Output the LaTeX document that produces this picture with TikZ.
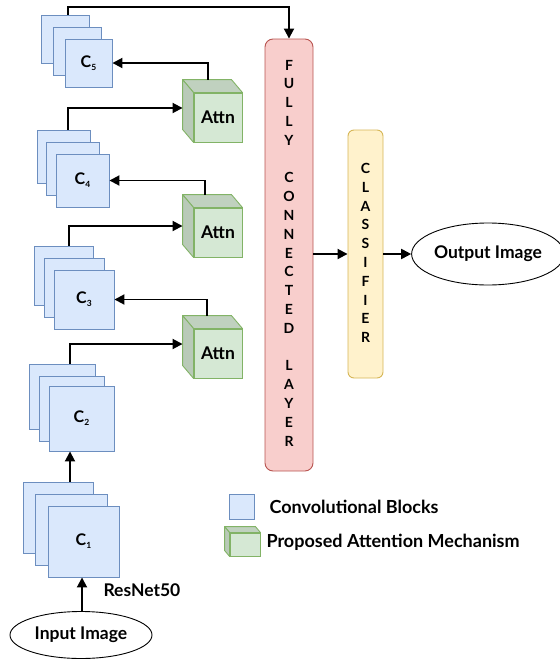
\documentclass[tikz,border=0pt]{standalone}
\usepackage{fontspec}
\setmainfont{Lato}
\usetikzlibrary{arrows.meta,calc,shapes.geometric}
\definecolor{cbfill}{HTML}{DAE8FC}
\definecolor{cbline}{HTML}{6C8EBF}
\definecolor{gnfill}{HTML}{D5E8D4}
\definecolor{gnline}{HTML}{82B366}
\definecolor{rdfill}{HTML}{F8CECC}
\definecolor{rdline}{HTML}{B85450}
\definecolor{ylfill}{HTML}{FFF2CC}
\definecolor{ylline}{HTML}{D6B656}
\begin{document}
\begin{tikzpicture}[x=1pt,y=-1pt,
  blk/.style={draw=cbline,fill=cbfill,line width=0.9pt,inner sep=0pt,font=\bfseries\fontsize{16}{18}\selectfont},
  attnfront/.style={draw=gnline,fill=gnfill,line width=0.9pt,inner sep=0pt,minimum width=48pt,minimum height=49pt,font=\bfseries\fontsize{17.5}{18}\selectfont},
  attntop/.style={draw=gnline,fill=gnfill!90!black,line width=0.9pt,line join=round},
  attnleft/.style={draw=gnline,fill=gnfill!87!black,line width=0.9pt,line join=round},
  arr/.style={line width=1.9pt,-{Triangle[length=10pt,width=10pt]}},
  lbl/.style={font=\bfseries\fontsize{17.5}{20}\selectfont},
  leg/.style={font=\bfseries\fontsize{18}{20}\selectfont},
  vert/.style={align=center,inner sep=0pt,font=\bfseries\fontsize{14}{18.8}\selectfont},
  ell/.style={draw,ellipse,line width=0.9pt,inner sep=0pt,font=\bfseries\fontsize{17.5}{20}\selectfont}
]
\useasboundingbox (0,0) rectangle (560,662);

% ---------- convolution stacks ----------
\newcommand\sub[1]{\raisebox{-3pt}{\fontsize{8.5}{8.5}\selectfont #1}}
% C5
\node[blk,minimum width=48pt,minimum height=48pt] (c5b) at (65,39) {};
\node[blk,minimum width=48pt,minimum height=48pt] (c5m) at (77,51) {};
\node[blk,minimum width=47pt,minimum height=48pt] (c5f) at (88.5,63) {C\sub{5}};
% C4
\node[blk,minimum width=53pt,minimum height=53pt] (c4b) at (63.5,156.5) {};
\node[blk,minimum width=53pt,minimum height=53pt] (c4m) at (72.5,168.5) {};
\node[blk,minimum width=53pt,minimum height=53pt] (c4f) at (82.5,180.5) {C\sub{4}};
% C3
\node[blk,minimum width=59pt,minimum height=59pt] (c3b) at (63.5,275.5) {};
\node[blk,minimum width=60pt,minimum height=59pt] (c3m) at (74,287.5) {};
\node[blk,minimum width=60pt,minimum height=59pt] (c3f) at (84,299.5) {C\sub{3}};
% C2
\node[blk,minimum width=66pt,minimum height=65pt] (c2b) at (62,396.5) {};
\node[blk,minimum width=65pt,minimum height=65pt] (c2m) at (71.5,408.5) {};
\node[blk,minimum width=65pt,minimum height=65pt] (c2f) at (81.5,418.5) {C\sub{2}};
% C1
\node[blk,minimum width=70pt,minimum height=71pt] (c1b) at (58,517.5) {};
\node[blk,minimum width=72pt,minimum height=71pt] (c1m) at (71,529.5) {};
\node[blk,minimum width=71pt,minimum height=71pt] (c1f) at (83.5,541.5) {C\sub{1}};

% ---------- attention cubes ----------
\foreach \n/\cy in {a1/117.5,a2/232.5,a3/353.5}{
  \node[attnfront] (\n) at (218,\cy) {Attn};
  \filldraw[attntop] (\n.north west) -- ++(-11,-13) -- ([shift={(-11,-13)}]\n.north east) -- (\n.north east) -- cycle;
  \filldraw[attnleft] (\n.north west) -- ++(-11,-13) -- ([shift={(-11,-13)}]\n.south west) -- (\n.south west) -- cycle;
}

% ---------- FC and classifier ----------
\node[draw=rdline,fill=rdfill,line width=0.9pt,rounded corners=8pt,minimum width=48pt,minimum height=432pt] (fc) at (289,255) {};
\node[vert] at (289,253) {F\\U\\L\\L\\Y\\\mbox{}\\C\\O\\N\\N\\E\\C\\T\\E\\D\\\mbox{}\\L\\A\\Y\\E\\R};
\node[draw=ylline,fill=ylfill,line width=0.9pt,rounded corners=6pt,minimum width=35pt,minimum height=248pt] (cls) at (365.5,254) {};
\node[vert] at (365.5,253) {C\\L\\A\\S\\S\\I\\F\\I\\E\\R};

\node[ell,minimum width=140pt,minimum height=62pt] (out) at (488,254) {Output Image};
\node[ell,minimum width=142pt,minimum height=47pt] (in) at (81,635) {Input Image};

% ---------- connectors ----------
\draw[arr] ([xshift=3pt]c5b.north) -- ++(0,-8) -| (fc.north);
\draw[arr] ([shift={(-10,-13)}]a1.north) |- (c5f.east);
\draw[arr] ([xshift=4.5pt]c4b.north) |- ([shift={(-11,-9.5)}]a1.west);
\draw[arr] ([shift={(-13,-13)}]a2.north) |- (c4f.east);
\draw[arr] ([xshift=5.5pt]c3b.north) |- ([shift={(-11,-6.5)}]a2.west);
\draw[arr] ([shift={(-11,-13)}]a3.north) |- (c3f.east);
\draw[arr] ([xshift=8pt]c2b.north) |- ([shift={(-11,-9.5)}]a3.west);
\draw[arr] ([xshift=12pt]c1b.north) -- ([xshift=-11.5pt]c2f.south);
\draw[arr] ([xshift=1pt]in.north) -- ([xshift=1pt]in.north |- c1f.south);
\node[lbl,anchor=west] (rn) at (100,590) {ResNet50};
\draw[arr] (fc.east |- cls.west) -- (cls.west);
\draw[arr] (cls.east) -- (out.west);

% ---------- legend ----------
\node[blk,minimum width=25pt,minimum height=25pt] (lgb) at (241.5,506.5) {};
\node[leg,anchor=west] (lgbt) at (266,507) {Convolutional Blocks};
\node[draw=gnline,fill=gnfill,line width=0.9pt,minimum width=30pt,minimum height=23pt,inner sep=0pt] (lgg) at (245,544.5) {};
\filldraw[attntop] (lgg.north west) -- ++(-5,-6) -- ([shift={(-5,-6)}]lgg.north east) -- (lgg.north east) -- cycle;
\filldraw[attnleft] (lgg.north west) -- ++(-5,-6) -- ([shift={(-5,-6)}]lgg.south west) -- (lgg.south west) -- cycle;
\node[leg,anchor=west] (lggt) at (263,542) {Proposed Attention Mechanism};
\end{tikzpicture}
\end{document}
